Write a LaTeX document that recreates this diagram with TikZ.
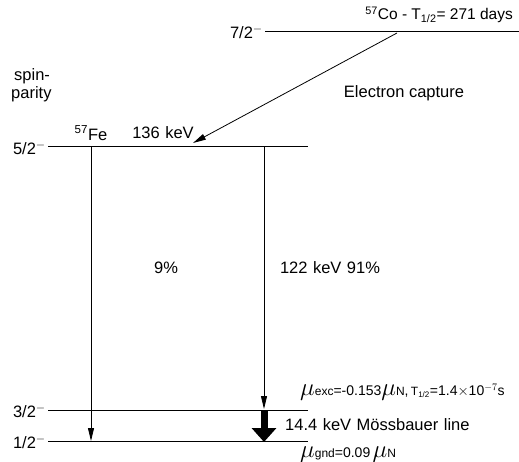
\documentclass[tikz,border=0pt]{standalone}
\usepackage{fontspec}
\setmainfont{Liberation Sans}
\usetikzlibrary{arrows.meta}
\newcommand{\bigmu}{{\fontsize{23}{25}\selectfont$\mu$}}
\newcommand{\smalltx}[1]{{\fontsize{12}{14}\selectfont #1}}
\begin{document}
\begin{tikzpicture}[x=1pt,y=-1pt,
  lvl/.style={line width=0.8pt},
  txt/.style={inner sep=0pt, font=\fontsize{16.5}{19}\selectfont},
  mtxt/.style={inner sep=0pt, font=\fontsize{14}{16}\selectfont},
  arr/.style={line width=0.8pt,-{Triangle[length=13pt,width=6pt]}},
  bigarr/.style={line width=7pt,-{Triangle[length=14pt,width=24pt]}}]
\useasboundingbox (0,0) rectangle (519,462);
% levels
\coordinate (L7a) at (265,31); \coordinate (L7b) at (519,31);
\coordinate (L5a) at (48,146); \coordinate (L5b) at (308,146);
\coordinate (L3a) at (48,410); \coordinate (L3b) at (308,410);
\coordinate (L1a) at (48,441); \coordinate (L1b) at (308,441);
\draw[lvl] (L7a) -- (L7b);
\draw[lvl] (L5a) -- (L5b);
\draw[lvl] (L3a) -- (L3b);
\draw[lvl] (L1a) -- (L1b);
% level labels
\node[txt,anchor=east] (s7) at (263,32) {7/2$^{-}$};
\node[txt,anchor=east] (s5) at (46,148) {5/2$^{-}$};
\node[txt,anchor=east] (s3) at (46,411) {3/2$^{-}$};
\node[txt,anchor=east] (s1) at (46,442) {1/2$^{-}$};
\node[txt,anchor=west] (sp1) at (14,76) {spin-};
\node[txt,anchor=west] (sp2) at (11,94) {parity};
% texts
\node[txt,anchor=east,font=\fontsize{15.5}{18}\selectfont] (co) at (513,15) {\textsuperscript{57}Co - T\textsubscript{1/2}= 271 days};
\node[txt] (ec) at (404,93) {Electron capture};
\node[txt] (fe) at (91,133) {\textsuperscript{57}Fe};
\node[txt] (kev) at (163,133) {136\,\,keV};
\node[txt] (p9) at (166,268) {9\%};
\node[txt] (p91) at (330,268) {122\,\,keV\,\,91\%};
\node[mtxt,anchor=west] (mex) at (300,392) {\bigmu\smalltx{exc}=-0.153\bigmu\smalltx{N},\,\smalltx{T\textsubscript{1/2}}=1.4$\times$10$^{-7}$s};
\node[txt,anchor=west] (moss) at (285,425) {14.4\,\,keV\,\,Mössbauer\,\,line};
\node[mtxt,anchor=west] (mgn) at (300,455) {\bigmu\smalltx{gnd}=0.09\,\bigmu\smalltx{N}};
% transitions
\coordinate (ecs) at (397,33); \coordinate (ect) at (193,143);
\draw[arr] (ecs) -- (ect);
\coordinate (g9s) at (91,147); \coordinate (g9e) at (91,441);
\draw[arr] (g9s) -- (g9e);
\coordinate (g91s) at (264,147); \coordinate (g91e) at (264,409);
\draw[arr] (g91s) -- (g91e);
\coordinate (ms) at (264,411); \coordinate (me) at (264,442);
\draw[bigarr] (ms) -- (me);
\end{tikzpicture}
\end{document}
